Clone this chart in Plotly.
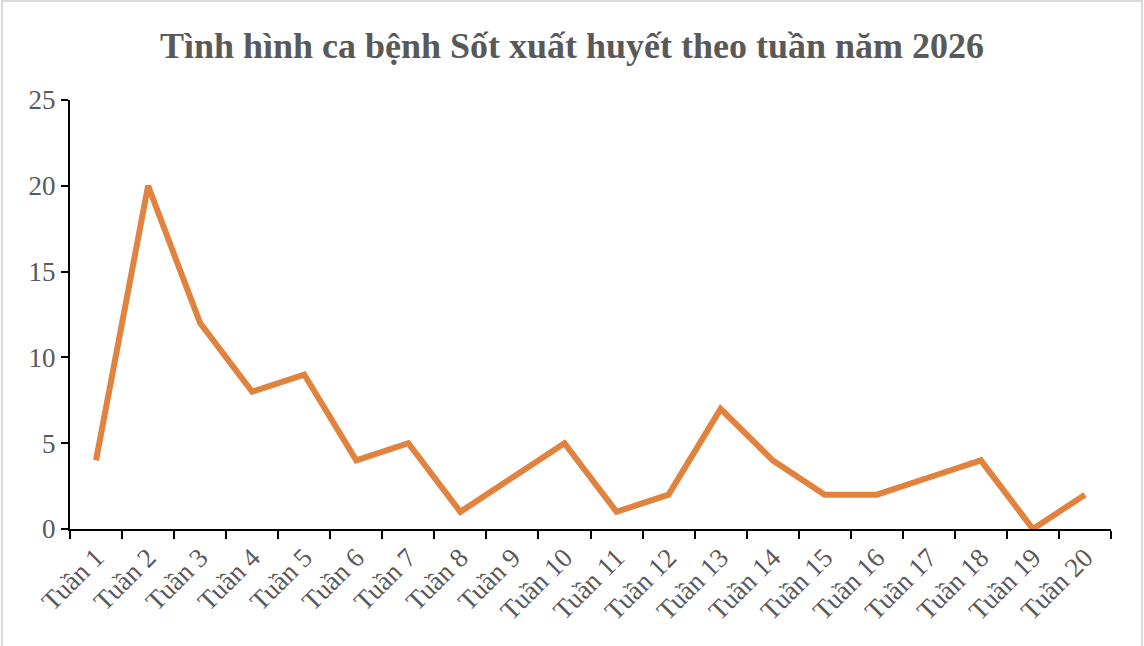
import plotly.graph_objects as go

# Số ca bệnh theo tuần
weeks = ["Tuần %d" % i for i in range(1, 21)]
cases = [4, 20, 12, 8, 9, 4, 5, 1, 3, 5, 1, 2, 7, 4, 2, 2, 3, 4, 0, 2]
y_ticks = [0, 5, 10, 15, 20, 25]

W, H = 1144, 646
ml, mr, mt, mb = 70, 33, 100, 117

fig = go.Figure()
fig.add_trace(go.Scatter(
    x=weeks,
    y=cases,
    mode="lines",
    line=dict(color="#E2823F", width=6),
    hoverinfo="x+y",
))

# vien xam quanh bieu do
pw, ph = W - ml - mr, H - mt - mb
fig.add_shape(
    type="rect", xref="paper", yref="paper",
    x0=(2 - ml) / pw, x1=(W - 2 - ml) / pw,
    y0=-(mb + 10) / ph, y1=1 + (mt - 1) / ph,
    line=dict(color="#D9D9D9", width=2),
)

fig.update_layout(
    title=dict(
        text="<b>Tình hình ca bệnh Sốt xuất huyết theo tuần năm 2026</b>",
        x=0.5, xref="container", xanchor="center",
        y=1 - 45 / H, yanchor="middle",
        font=dict(family="Liberation Serif", size=36, color="#595959"),
    ),
    xaxis=dict(
        range=[-0.5, len(weeks) - 0.5],
        showline=True, linecolor="black", linewidth=2,
        ticks="outside", tickson="boundaries", ticklen=8, tickwidth=2, tickcolor="black",
        tickangle=-45,
        tickfont=dict(family="Liberation Serif", size=27, color="#595959"),
        showgrid=False, zeroline=False, automargin=False,
    ),
    yaxis=dict(
        range=[0, 25], tickvals=y_ticks,
        showline=True, linecolor="black", linewidth=2,
        ticks="outside", ticklen=7, tickwidth=2, tickcolor="black",
        tickfont=dict(family="Liberation Serif", size=27, color="#595959"),
        showgrid=False, zeroline=False, automargin=False,
    ),
    plot_bgcolor="white",
    paper_bgcolor="white",
    showlegend=False,
    width=W, height=H,
    margin=dict(l=ml, r=mr, t=mt, b=mb),
)

fig.write_html("out.html", config={"displayModeBar": False},
               post_script="document.body.style.margin='0';")
